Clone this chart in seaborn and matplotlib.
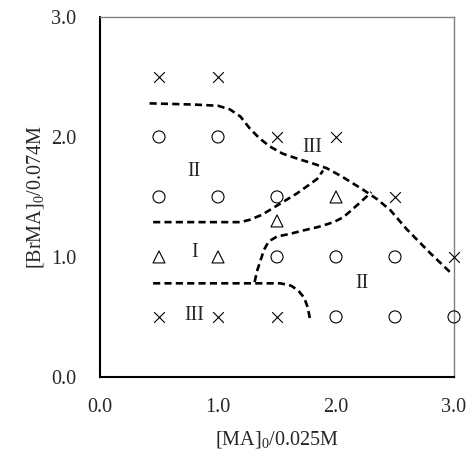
import pandas as pd
import matplotlib
matplotlib.use('Agg')
import matplotlib.pyplot as plt
import seaborn as sns

# Experimental points: [MA]0 ratio, [BrMA]0 ratio, observed phase marker
ma = [0.5, 0.5, 0.5, 0.5, 0.5,
      1.0, 1.0, 1.0, 1.0, 1.0,
      1.5, 1.5, 1.5, 1.5, 1.5,
      2.0, 2.0, 2.0, 2.0,
      2.5, 2.5, 2.5,
      3.0, 3.0]
brma = [2.5, 2.0, 1.5, 1.0, 0.5,
        2.5, 2.0, 1.5, 1.0, 0.5,
        2.0, 1.5, 1.3, 1.0, 0.5,
        2.0, 1.5, 1.0, 0.5,
        1.5, 1.0, 0.5,
        1.0, 0.5]
kind = ['x', 'o', 'o', '^', 'x',
        'x', 'o', 'o', '^', 'x',
        'x', 'o', '^', 'o', 'x',
        'x', '^', 'o', 'o',
        'x', 'o', 'o',
        'x', 'o']

# Phase boundaries (dashed)
top_x = [0.42, 0.8, 1.0, 1.1, 1.19, 1.27, 1.35, 1.44, 1.55, 1.67, 1.8, 1.92,
         2.05, 2.23, 2.35, 2.46, 2.6, 2.8, 2.97]
top_y = [2.28, 2.27, 2.26, 2.23, 2.17, 2.07, 1.99, 1.92, 1.86, 1.82, 1.78, 1.74,
         1.67, 1.56, 1.48, 1.39, 1.23, 1.03, 0.87]
mid_x = [0.45, 1.19, 1.27, 1.37, 1.47, 1.57, 1.67, 1.77, 1.84, 1.89]
mid_y = [1.29, 1.29, 1.31, 1.35, 1.41, 1.47, 1.53, 1.60, 1.65, 1.72]
low_mid_x = [1.31, 1.33, 1.36, 1.39, 1.43, 1.5, 1.6, 1.72, 1.85, 1.98, 2.06,
             2.12, 2.2, 2.3]
low_mid_y = [0.79, 0.88, 0.97, 1.06, 1.13, 1.17, 1.19, 1.22, 1.25, 1.29, 1.33,
             1.38, 1.45, 1.54]
low_x = [0.45, 1.53, 1.62, 1.68, 1.73, 1.76, 1.78]
low_y = [0.78, 0.78, 0.76, 0.72, 0.66, 0.58, 0.48]

# Region labels
region_text = ['III', 'II', 'I', 'III', 'II']
region_x = [1.8, 0.8, 0.8, 0.8, 2.22]
region_y = [1.91, 1.71, 1.04, 0.51, 0.78]

sns.set_style('white')
plt.rcParams['font.family'] = ['Liberation Serif', 'DejaVu Serif']
plt.rcParams['mathtext.fontset'] = 'custom'
plt.rcParams['mathtext.rm'] = 'Liberation Serif'
plt.rcParams['mathtext.it'] = 'Liberation Serif:italic'

df = pd.DataFrame({'MA': ma, 'BrMA': brma, 'kind': kind})

fig = plt.figure(figsize=(4.66, 4.53), dpi=100)
ax = fig.add_axes([0.2146, 0.168, 0.7597, 0.7945])

dash = (0, (2.7, 1.6))
for xs, ys in [(top_x, top_y), (mid_x, mid_y), (low_mid_x, low_mid_y), (low_x, low_y)]:
    ax.plot(xs, ys, color='black', lw=1.9, linestyle=dash)

# open circles and triangles
for m in ['o', '^']:
    sns.scatterplot(data=df[df['kind'] == m], x='MA', y='BrMA', marker=m,
                    s=75, facecolor='none', edgecolor='black', linewidth=0.8,
                    legend=False, ax=ax, zorder=3, clip_on=False)
# crosses
sns.scatterplot(data=df[df['kind'] == 'x'], x='MA', y='BrMA', marker='x',
                s=60, color='black', linewidth=0.8, legend=False, ax=ax,
                zorder=3, clip_on=False)

for t, x, y in zip(region_text, region_x, region_y):
    ax.text(x, y, t, fontsize=14.5, ha='center', va='center')

ax.set_xlim(0, 3)
ax.set_ylim(0, 3)
ax.set_xticks([0, 1, 2, 3])
ax.set_yticks([0, 1, 2, 3])
ax.set_xticklabels(['0.0', '1.0', '2.0', '3.0'])
ax.set_yticklabels(['0.0', '1.0', '2.0', '3.0'])
ax.tick_params(direction='in', length=4, width=0.8, labelsize=14.5, color='black')
ax.tick_params(axis='x', pad=15)
ax.tick_params(axis='y', pad=17)
ax.set_xlabel('[MA]$_0$/0.025M', fontsize=14.5, labelpad=9)
ax.set_ylabel('[BrMA]$_0$/0.074M', fontsize=14.5, labelpad=4)

for side in ['left', 'bottom']:
    ax.spines[side].set_color('black')
    ax.spines[side].set_linewidth(1.5)
for side in ['top', 'right']:
    ax.spines[side].set_color('#808080')
    ax.spines[side].set_linewidth(1.0)

fig.savefig('out.png', dpi=100)
